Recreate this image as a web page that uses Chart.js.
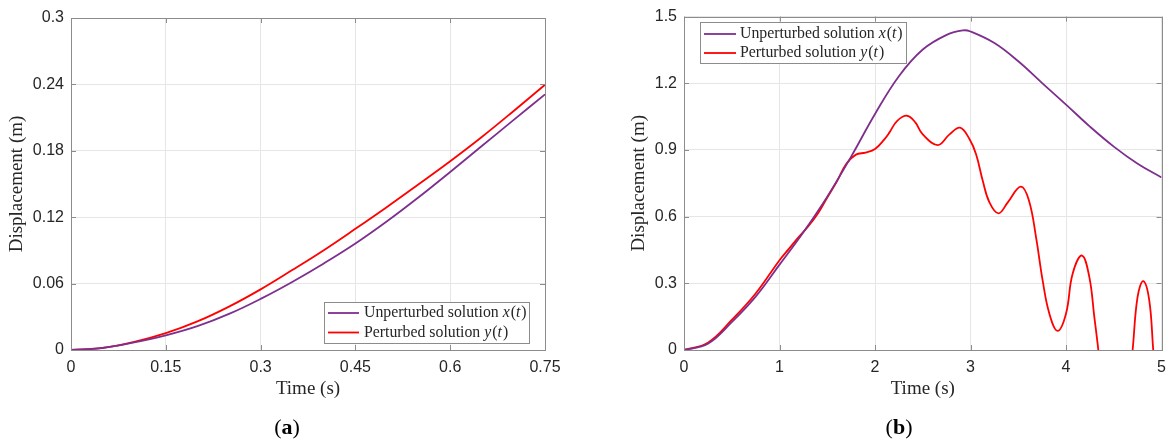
<!DOCTYPE html>
<html><head><meta charset="utf-8">
<script src="https://cdn.jsdelivr.net/npm/chart.js@4.4.0/dist/chart.umd.min.js"></script>
<style>
html,body{margin:0;padding:0;background:#fff;}
#wrap{position:relative;width:1174px;height:448px;overflow:hidden;background:#fff}
.pane{position:absolute;top:0;width:587px;height:448px}
.cap{position:absolute;top:427px;font-family:"Liberation Serif","Times New Roman",serif;font-size:22px;color:#000;transform:translate(-50%,-50%);white-space:nowrap}
</style></head>
<body>
<div id="wrap">
  <div class="pane" style="left:0"><canvas id="cA"></canvas></div>
  <div class="pane" style="left:587px"><canvas id="cB"></canvas></div>
  <div class="cap" style="left:287px">(<b>a</b>)</div>
  <div class="cap" style="left:899px">(<b>b</b>)</div>
</div>
<script>
// ---------- data ----------
const seriesNames = ['Unperturbed solution ', 'Perturbed solution '];
const seriesVars = ['x', 'y'];

// panel (a)
const tA = [0, 0.05, 0.1, 0.15, 0.2, 0.25, 0.3, 0.35, 0.4, 0.45, 0.5, 0.55, 0.6, 0.65, 0.7, 0.75];
const xA = [0, 0.0018, 0.0068, 0.0132, 0.0215, 0.0326, 0.0462, 0.0615, 0.0782, 0.0962, 0.1163, 0.1380, 0.1609, 0.1843, 0.2077, 0.2310];
const yA = [0, 0.0019, 0.0073, 0.0152, 0.0258, 0.0392, 0.0548, 0.0722, 0.0902, 0.1095, 0.1293, 0.1498, 0.1706, 0.1925, 0.2158, 0.2397];
const xTicksA = [0, 0.15, 0.3, 0.45, 0.6, 0.75];
const yTicksA = [0, 0.06, 0.12, 0.18, 0.24, 0.3];

// panel (b)
const tBx = [0, 0.25, 0.5, 0.75, 1.0, 1.25, 1.5, 1.75, 2.0, 2.25, 2.5, 2.75, 2.92, 3.0, 3.25, 3.5, 3.75, 4.0, 4.25, 4.5, 4.75, 5.0];
const xB  = [0, 0.028, 0.125, 0.24, 0.384, 0.53, 0.69, 0.87, 1.062, 1.232, 1.352, 1.418, 1.438, 1.433, 1.381, 1.299, 1.201, 1.104, 1.005, 0.915, 0.838, 0.776];
const tBy = [0, 0.25, 0.5, 0.75, 1.0, 1.1, 1.2, 1.3, 1.4, 1.5, 1.6, 1.7, 1.8, 1.9, 2.0, 2.1, 2.15, 2.23, 2.333, 2.42, 2.5, 2.657, 2.78, 2.891, 2.99, 3.058, 3.128, 3.198, 3.292, 3.39, 3.525, 3.61, 3.686, 3.755, 3.825, 3.912, 4.0, 4.069, 4.167, 4.244, 4.296, 4.338, 4.4, 4.5, 4.6, 4.697, 4.749, 4.809, 4.871, 4.913, 4.96, 5.0];
const yB  = [0, 0.033, 0.135, 0.254, 0.404, 0.456, 0.508, 0.556, 0.613, 0.686, 0.758, 0.838, 0.879, 0.888, 0.904, 0.949, 0.978, 1.03, 1.054, 1.025, 0.97, 0.922, 0.97, 1.0, 0.948, 0.881, 0.761, 0.664, 0.615, 0.664, 0.735, 0.675, 0.507, 0.313, 0.164, 0.086, 0.164, 0.343, 0.425, 0.328, 0.149, 0, -0.25, -0.45, -0.4, 0, 0.239, 0.31, 0.224, 0, -0.25, -0.45];
const xTicksB = [0, 1, 2, 3, 4, 5];
const yTicksB = [0, 0.3, 0.6, 0.9, 1.2, 1.5];

const xTitle = 'Time (s)';
const yTitle = 'Displacement (m)';

// ---------- style ----------
const PURPLE = '#7E2F8E', RED = '#FF0000';
const AXIS = '#8c8c8c', GRID = '#e6e6e6', TXT = '#262626';
const SANS = '"Liberation Sans", Arial, Helvetica, sans-serif';
const SERIF = '"Liberation Serif", "Times New Roman", serif';

function pts(t, v){ return t.map((x,i)=>({x:x, y:v[i]})); }

const matlabBox = {
  id: 'matlabBox',
  afterDatasetsDraw(chart, args, o){
    const ctx = chart.ctx, a = chart.chartArea;
    const xs = chart.scales.x, ys = chart.scales.y;
    ctx.save();
    ctx.strokeStyle = AXIS; ctx.lineWidth = 1;
    ctx.beginPath();
    xs.ticks.forEach(t=>{
      const p = Math.round(xs.getPixelForValue(t.value)) + 0.5;
      ctx.moveTo(p, a.bottom); ctx.lineTo(p, a.bottom - 5);
      ctx.moveTo(p, a.top); ctx.lineTo(p, a.top + 5);
    });
    ys.ticks.forEach(t=>{
      const p = Math.round(ys.getPixelForValue(t.value)) + 0.5;
      ctx.moveTo(a.left, p); ctx.lineTo(a.left + 5, p);
      ctx.moveTo(a.right, p); ctx.lineTo(a.right - 5, p);
    });
    ctx.stroke();
    ctx.strokeRect(Math.round(a.left)+0.5, Math.round(a.top)+0.5, Math.round(a.right-a.left), Math.round(a.bottom-a.top));
    // legend
    const L = o.legend;
    ctx.fillStyle = '#fff';
    ctx.fillRect(L.x, L.y, L.w, L.h);
    ctx.strokeStyle = AXIS;
    ctx.strokeRect(L.x+0.5, L.y+0.5, L.w, L.h);
    const cols = [PURPLE, RED];
    for (let i=0;i<2;i++){
      const cy = L.y + L.r0 + i*L.dy;
      ctx.strokeStyle = cols[i]; ctx.lineWidth = 1.8;
      ctx.beginPath(); ctx.moveTo(L.x+L.l0, cy); ctx.lineTo(L.x+L.l1, cy); ctx.stroke();
      const parts = [[seriesNames[i], false],[seriesVars[i], true],['(', false],['t', true],[')', false]];
      let tx = L.x + L.tx;
      ctx.fillStyle = TXT; ctx.textBaseline = 'middle'; ctx.textAlign = 'left';
      parts.forEach(([s,it])=>{
        ctx.font = (it?'italic ':'') + L.fs + 'px ' + SERIF;
        ctx.fillText(s, tx, cy);
        tx += ctx.measureText(s).width + (it ? 1 : 0);
      });
    }
    ctx.restore();
  }
};

function makeChart(id, cfg){
  return new Chart(document.getElementById(id), {
    type: 'line',
    data: { datasets: [
      { data: pts(cfg.tx, cfg.vx), borderColor: PURPLE, borderWidth: 1.8, pointRadius: 0, tension: 0.4, fill: false, clip: 0 },
      { data: pts(cfg.ty, cfg.vy), borderColor: RED, borderWidth: 1.8, pointRadius: 0, tension: 0.4, fill: false, clip: 0 }
    ]},
    plugins: [matlabBox],
    options: {
      responsive: true, maintainAspectRatio: false, animation: false,
      events: [],
      layout: { padding: { top: cfg.top, right: cfg.right, left: 0, bottom: 0 } },
      plugins: { legend: { display: false }, tooltip: { enabled: false }, matlabBox: { legend: cfg.legend } },
      scales: {
        x: {
          type: 'linear', min: cfg.xt[0], max: cfg.xt[cfg.xt.length-1],
          afterBuildTicks: s => { s.ticks = cfg.xt.map(v=>({value:v})); },
          afterFit: s => { s.height = 448 - 350; },
          grid: { color: GRID, drawTicks: false, lineWidth: 1 },
          border: { display: false },
          ticks: { padding: 8, color: TXT, font: { family: SANS, size: 16 }, maxRotation: 0, autoSkip: false,
                   callback: v => String(v) },
          title: { display: true, text: xTitle, color: TXT, font: { family: SERIF, size: 19 }, padding: { top: 0, bottom: 48 } }
        },
        y: {
          type: 'linear', min: cfg.yt[0], max: cfg.yt[cfg.yt.length-1],
          afterBuildTicks: s => { s.ticks = cfg.yt.map(v=>({value:v})); },
          afterFit: s => { s.width = cfg.yw; },
          grid: { color: GRID, drawTicks: false, lineWidth: 1 },
          border: { display: false },
          ticks: { padding: 7, color: TXT, font: { family: SANS, size: 16 }, autoSkip: false,
                   callback: v => String(v) },
          title: { display: true, text: yTitle, color: TXT, font: { family: SERIF, size: 19 }, padding: { top: cfg.ytp, bottom: 0 } }
        }
      }
    }
  });
}

makeChart('cA', {
  tx: tA, vx: xA, ty: tA, vy: yA, xt: xTicksA, yt: yTicksA,
  top: 18, right: 587 - 545, yw: 71, ytp: 6,
  legend: { x: 324, y: 302, w: 205, h: 41, l0: 4, l1: 35, tx: 40, r0: 11, dy: 19.5, fs: 15.8 }
});
makeChart('cB', {
  tx: tBx, vx: xB, ty: tBy, vy: yB, xt: xTicksB, yt: yTicksB,
  top: 15, right: 587 - 575, yw: 97, ytp: 41,
  legend: { x: 113, y: 22, w: 206, h: 41, l0: 4, l1: 36, tx: 40, r0: 12, dy: 19, fs: 15.8 }
});
</script>
</body></html>
